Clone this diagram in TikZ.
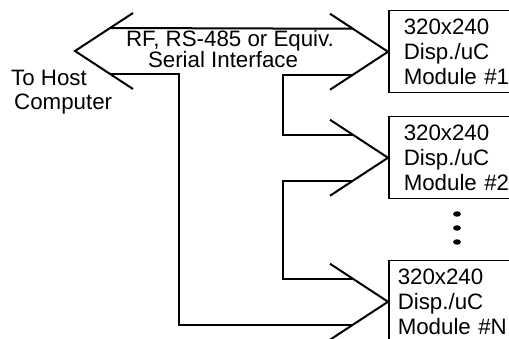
\documentclass[tikz,border=0pt]{standalone}
\usepackage{fontspec}
\setmainfont{Liberation Sans}
\usetikzlibrary{calc}

\begin{document}
\begin{tikzpicture}[x=1pt, y=-1pt,
  bus/.style={line width=2pt},
  modbox/.style={draw, line width=1.5pt, anchor=north west, minimum height=82pt,
    text width=110pt, inner xsep=15pt, align=left, font=\fontsize{22.3}{25}\selectfont},
  lbl/.style={font=\fontsize{22.3}{24}\selectfont, inner sep=0pt}]
\path[use as bounding box] (0,0) rectangle (509,339);
\clip (0,0) rectangle (509,339);
% display modules (cut off at the right)
\node[modbox] (m1) at (388,10) {320x240\\Disp./uC\\Module \#1};
\node[modbox] (m2) at (388,116) {320x240\\Disp./uC\\Module \#2};
\node[modbox, inner xsep=9pt] (mN) at (388,260) {320x240\\Disp./uC\\Module \#N};
% host side of the link
\coordinate (host) at (75,51);
\node[lbl, anchor=base west] (to) at (11,86) {To Host};
\node[lbl, anchor=base west] (comp) at (14,110) {Computer};
\node[lbl, anchor=base] (rf) at (230,47) {RF, RS-485 or Equiv.};
\node[lbl, anchor=base] (ser) at (223,68) {Serial Interface};
% open arrow heads
\draw[bus] (host) ++(58,-38) -- (host) -- ++(58,38);
\draw[bus] (m1.west) ++(-58,-38) -- (m1.west) -- ++(-58,38);
\draw[bus] (m2.west) ++(-58,-38) -- (m2.west) -- ++(-58,38);
\draw[bus] (mN.west) ++(-58,-38) -- (mN.west) -- ++(-58,38);
% line ends on the arrow heads
\coordinate (hT) at ($(host)+(35,-23)$);  \coordinate (hB) at ($(host)+(35,23)$);
\coordinate (m1T) at ($(m1.west)+(-35,-23)$); \coordinate (m1B) at ($(m1.west)+(-35,23)$);
\coordinate (m2T) at ($(m2.west)+(-35,-23)$); \coordinate (m2B) at ($(m2.west)+(-35,23)$);
\coordinate (mNT) at ($(mN.west)+(-35,-23)$); \coordinate (mNB) at ($(mN.west)+(-35,23)$);
\coordinate (xa) at (179,0);
\coordinate (xb) at (283,0);
% the two wires
\draw[bus] (hT) -- (m1T);
\draw[bus] (hB) -- (hB -| xa) |- (mNB);
\draw[bus] (m1B) -- (m1B -| xb) |- (m2T);
\draw[bus] (m2B) -- (m2B -| xb) |- (mNT);
% more modules
\foreach \y in {214,228,242}
  \draw[line width=2.6pt] (457,\y) ellipse [x radius=2.4, y radius=1.4];
\end{tikzpicture}
\end{document}
